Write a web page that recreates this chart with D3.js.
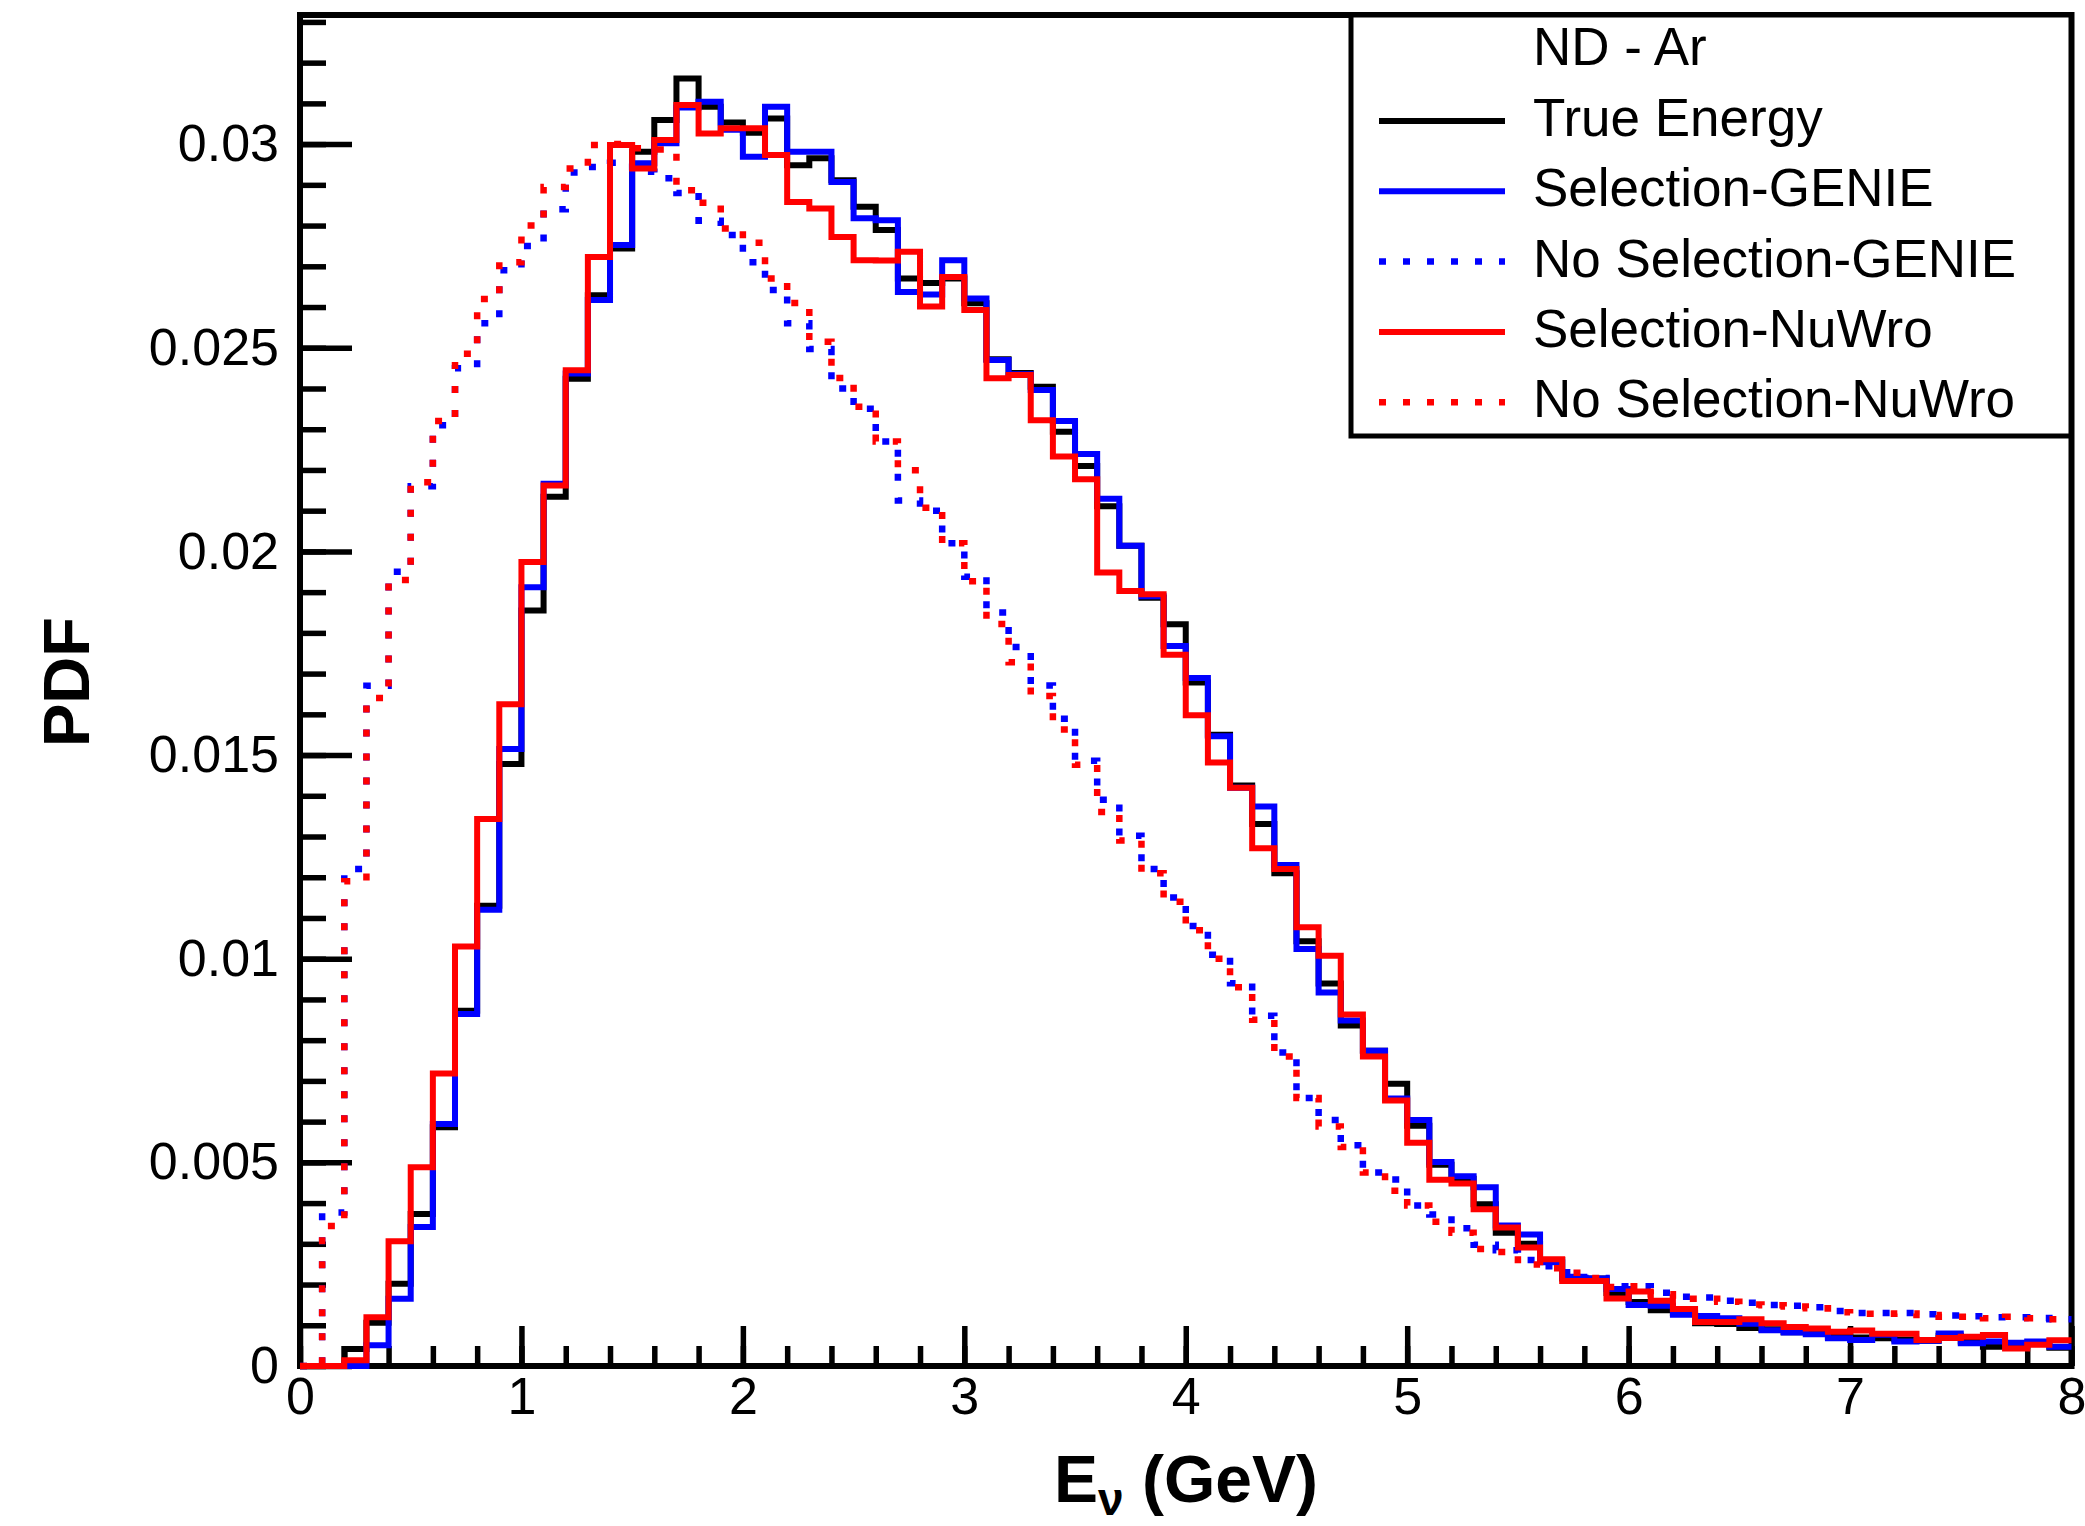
<!DOCTYPE html>
<html>
<head>
<meta charset="utf-8">
<script src="https://cdn.jsdelivr.net/npm/d3@7"></script>
<style>
  body { margin: 0; background: #fff; }
  text { font-family: "Liberation Sans", Arial, Helvetica, sans-serif; fill: #000; }
</style>
</head>
<body>
<div id="chart"></div>
<script>
// histogram: 80 bins of 0.1 GeV from 0 to 8 GeV, values are PDF per bin
var trueEnergy = [0, 0, 0.00042, 0.00106, 0.00202, 0.00373, 0.00586, 0.00872, 0.0113, 0.01478,
  0.01855, 0.02134, 0.02424, 0.02629, 0.02744, 0.02981, 0.03059, 0.03161, 0.03092, 0.03053,
  0.03028, 0.03063, 0.02948, 0.02965, 0.02911, 0.02846, 0.02789, 0.0267, 0.02659, 0.0267,
  0.02609, 0.02472, 0.02438, 0.02404, 0.02294, 0.0221, 0.02111, 0.02014, 0.01886, 0.01821,
  0.01678, 0.0155, 0.01425, 0.01331, 0.0121, 0.01043, 0.00939, 0.00836, 0.00774, 0.00693,
  0.0059, 0.00494, 0.0046, 0.00397, 0.00327, 0.003, 0.0026, 0.00215, 0.00215, 0.00179,
  0.00157, 0.00137, 0.0013, 0.00105, 0.00103, 0.00093, 0.0009, 0.00083, 0.00084, 0.00072,
  0.0007, 0.00068, 0.00065, 0.00062, 0.00074, 0.0006, 0.00047, 0.0005, 0.00055, 0.00045];

var selGenie = [0, 0, 0, 0.00051, 0.00165, 0.00341, 0.00594, 0.00864, 0.0112, 0.01515,
  0.01912, 0.02166, 0.02437, 0.02617, 0.02752, 0.02953, 0.03002, 0.0309, 0.03104, 0.03035,
  0.02969, 0.03092, 0.02981, 0.02981, 0.02907, 0.02818, 0.02813, 0.02637, 0.02631, 0.02715,
  0.02621, 0.0247, 0.02435, 0.02396, 0.0232, 0.02239, 0.02129, 0.02014, 0.0189, 0.01768,
  0.01689, 0.01546, 0.0142, 0.01374, 0.0123, 0.01024, 0.00917, 0.00848, 0.00774, 0.00657,
  0.00604, 0.00501, 0.00466, 0.00439, 0.00345, 0.00323, 0.00255, 0.00219, 0.00215, 0.00189,
  0.0015, 0.00148, 0.00126, 0.00123, 0.00117, 0.00104, 0.00088, 0.00082, 0.00078, 0.00068,
  0.00064, 0.00077, 0.0006, 0.00062, 0.0008, 0.00056, 0.0006, 0.00057, 0.0006, 0.00047];

var noSelGenie = [0, 0.00377, 0.0122, 0.0167, 0.0195, 0.0216, 0.0231, 0.0245, 0.0256, 0.0269,
  0.0275, 0.0284, 0.0293, 0.02944, 0.02954, 0.02932, 0.02916, 0.0288, 0.02812, 0.02777,
  0.0271, 0.02642, 0.0256, 0.02497, 0.024, 0.0235, 0.0227, 0.02125, 0.021, 0.0202,
  0.01938, 0.0185, 0.01765, 0.01671, 0.01589, 0.01486, 0.0139, 0.01302, 0.0122, 0.0115,
  0.0108, 0.0101, 0.0094, 0.0086, 0.0077, 0.00658, 0.00604, 0.00542, 0.00475, 0.00458,
  0.00394, 0.00372, 0.00338, 0.00298, 0.00284, 0.0026, 0.00245, 0.0023, 0.00216, 0.00196,
  0.00196, 0.0018, 0.0017, 0.00168, 0.0016, 0.00155, 0.0015, 0.00148, 0.00144, 0.00135,
  0.0013, 0.0013, 0.0013, 0.00127, 0.00124, 0.00122, 0.0012, 0.0012, 0.00118, 0.00115];

var selNuwro = [0, 0, 0.00014, 0.0012, 0.00306, 0.00488, 0.00718, 0.0103, 0.01343, 0.01625,
  0.01974, 0.02162, 0.02445, 0.02723, 0.02998, 0.0294, 0.0301, 0.03096, 0.03026, 0.03039,
  0.03039, 0.02973, 0.02858, 0.02842, 0.02772, 0.02715, 0.02714, 0.02736, 0.02601, 0.02674,
  0.02593, 0.02425, 0.02433, 0.02322, 0.02233, 0.02177, 0.01948, 0.01903, 0.01895, 0.01746,
  0.01598, 0.01482, 0.0142, 0.01271, 0.0122, 0.01077, 0.01007, 0.00863, 0.0076, 0.00652,
  0.00548, 0.00457, 0.00448, 0.00385, 0.0034, 0.00291, 0.00262, 0.00209, 0.00209, 0.00166,
  0.00183, 0.0016, 0.0014, 0.00108, 0.00108, 0.00115, 0.00105, 0.00096, 0.00092, 0.00084,
  0.00087, 0.00079, 0.00079, 0.00064, 0.00069, 0.00072, 0.00076, 0.00043, 0.00052, 0.00063];

var noSelNuwro = [0, 0.00344, 0.0119, 0.0164, 0.0193, 0.0217, 0.0232, 0.02485, 0.0262, 0.0271,
  0.028, 0.02895, 0.0294, 0.02998, 0.03, 0.0299, 0.02987, 0.02887, 0.02856, 0.02793,
  0.02758, 0.0267, 0.0261, 0.02515, 0.02426, 0.02355, 0.0227, 0.02199, 0.02107, 0.0202,
  0.01927, 0.01822, 0.01728, 0.01645, 0.01563, 0.01476, 0.0136, 0.0129, 0.0121, 0.0114,
  0.0107, 0.01, 0.0093, 0.0085, 0.0076, 0.00658, 0.00588, 0.00538, 0.00475, 0.0043,
  0.00394, 0.00354, 0.00327, 0.00287, 0.0028, 0.00249, 0.0024, 0.00229, 0.00216, 0.00194,
  0.00196, 0.00176, 0.00165, 0.00165, 0.00158, 0.00151, 0.00149, 0.00146, 0.00142, 0.00132,
  0.00128, 0.00128, 0.00129, 0.00125, 0.00121, 0.00121, 0.00117, 0.00121, 0.00117, 0.00115];

var xMajorTicks = [0, 1, 2, 3, 4, 5, 6, 7, 8];
var xTickLabels = ["0", "1", "2", "3", "4", "5", "6", "7", "8"];
var yMajorTicks = [0, 0.005, 0.01, 0.015, 0.02, 0.025, 0.03];
var yTickLabels = ["0", "0.005", "0.01", "0.015", "0.02", "0.025", "0.03"];

var legendHeader = "ND - Ar";
var legendLabels = ["True Energy", "Selection-GENIE", "No Selection-GENIE", "Selection-NuWro", "No Selection-NuWro"];

var svgWidth = 2085;
var svgHeight = 1526;
var margin = { top: 15, right: 13.5, bottom: 160, left: 300 };
var width = svgWidth - margin.left - margin.right;
var height = svgHeight - margin.top - margin.bottom;

var svg = d3.select("#chart")
  .append("svg")
  .attr("width", svgWidth)
  .attr("height", svgHeight)
  .style("display", "block");

svg.append("rect")
  .attr("width", svgWidth)
  .attr("height", svgHeight)
  .attr("fill", "#fff");

var chartGroup = svg.append("g")
  .attr("transform", `translate(${margin.left}, ${margin.top})`);

var xScale = d3.scaleLinear().domain([0, 8]).range([0, width]);
var yScale = d3.scaleLinear().domain([0, 0.03317]).range([height, 0]);

// ticks point into the frame, minor ones shorter
function styleAxis(g) {
  g.select(".domain").remove();
  g.selectAll(".tick line").attr("stroke", "#000").attr("stroke-width", 5.5);
  g.selectAll(".tick text").attr("font-size", "52px").attr("fill", "#000")
    .style("font-family", '"Liberation Sans", Arial, sans-serif');
}

chartGroup.append("g")
  .call(d3.axisLeft(yScale).tickValues(d3.range(0, 34).map(i => i / 1000)).tickSize(-26).tickFormat(""))
  .call(styleAxis);

chartGroup.append("g")
  .call(d3.axisLeft(yScale).tickValues(yMajorTicks).tickSize(-52).tickPadding(21)
    .tickFormat((d, i) => yTickLabels[i]))
  .call(styleAxis);

chartGroup.append("g")
  .attr("transform", `translate(0, ${height})`)
  .call(d3.axisBottom(xScale).tickValues(d3.range(0, 41).map(i => i * 0.2)).tickSize(-20).tickFormat(""))
  .call(styleAxis);

chartGroup.append("g")
  .attr("transform", `translate(0, ${height})`)
  .call(d3.axisBottom(xScale).tickValues(xMajorTicks).tickSize(-40).tickPadding(11)
    .tickFormat((d, i) => xTickLabels[i]))
  .call(styleAxis);

// frame
chartGroup.append("rect")
  .attr("width", width)
  .attr("height", height)
  .attr("fill", "none")
  .attr("stroke", "#000")
  .attr("stroke-width", 6);

// step outline for a histogram
var stepLine = d3.line()
  .x(d => xScale(d[0]))
  .y(d => yScale(d[1]))
  .curve(d3.curveStepAfter);

function histPoints(values) {
  var pts = values.map((v, i) => [i * 0.1, v]);
  pts.push([8, values[values.length - 1]]);
  return pts;
}

var series = [
  { values: trueEnergy, color: "#000000", dash: null },
  { values: selGenie, color: "#0000ff", dash: null },
  { values: noSelGenie, color: "#0000ff", dash: "7,17" },
  { values: selNuwro, color: "#ff0000", dash: null },
  { values: noSelNuwro, color: "#ff0000", dash: "7,17" }
];

series.forEach(function(s) {
  chartGroup.append("path")
    .datum(histPoints(s.values))
    .attr("d", stepLine)
    .attr("fill", "none")
    .attr("stroke", s.color)
    .attr("stroke-width", s.dash ? 6.5 : 6)
    .attr("stroke-dasharray", s.dash);
});

// legend
var legend = svg.append("g").attr("transform", "translate(1351, 15)");

legend.append("rect")
  .attr("width", 720)
  .attr("height", 421)
  .attr("fill", "#fff")
  .attr("stroke", "#000")
  .attr("stroke-width", 5);

legend.append("text")
  .attr("x", 182)
  .attr("y", 50)
  .attr("font-size", "53px")
  .text(legendHeader);

legendLabels.forEach(function(label, i) {
  var s = series[i];
  var rowY = 106 + i * 70.3;
  legend.append("line")
    .attr("x1", 28).attr("x2", 154)
    .attr("y1", rowY).attr("y2", rowY)
    .attr("stroke", s.color)
    .attr("stroke-width", s.dash ? 6.5 : 6)
    .attr("stroke-dasharray", s.dash);
  legend.append("text")
    .attr("x", 182)
    .attr("y", rowY + 15)
    .attr("font-size", "53px")
    .text(label);
});

// axis titles
svg.append("text")
  .attr("transform", "translate(89, 682) rotate(-90)")
  .attr("text-anchor", "middle")
  .attr("font-size", "65px")
  .attr("font-weight", "bold")
  .text("PDF");

var xTitle = svg.append("text")
  .attr("x", 1186)
  .attr("y", 1502)
  .attr("text-anchor", "middle")
  .attr("font-size", "66px")
  .attr("font-weight", "bold");
xTitle.append("tspan").text("E");
xTitle.append("tspan").attr("font-size", "46px").attr("dy", 13).text("ν");
xTitle.append("tspan").attr("dy", -13).text(" (GeV)");
</script>
</body>
</html>
